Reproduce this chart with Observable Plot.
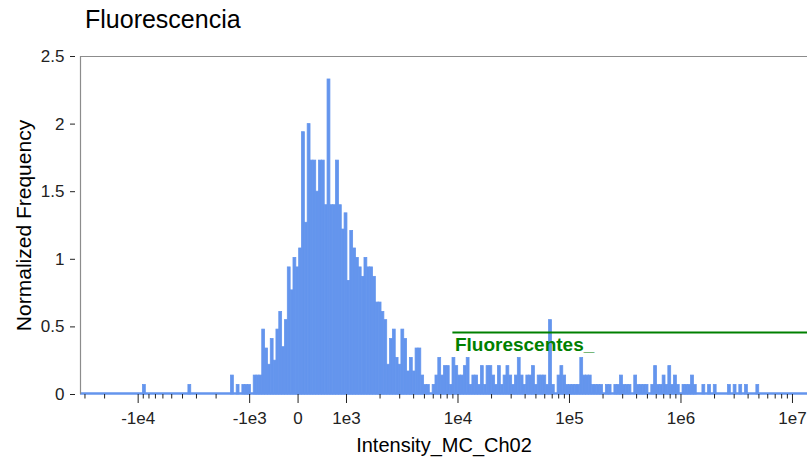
<!DOCTYPE html>
<html><head><meta charset="utf-8">
<script src="https://cdn.jsdelivr.net/npm/d3@7"></script>
<script src="https://cdn.jsdelivr.net/npm/@observablehq/plot@0.6"></script>
<style>
html,body{margin:0;padding:0;background:#fff;overflow:hidden;}
#title{height:40px;line-height:38px;padding-left:85px;font-size:25px;font-family:"Liberation Sans",Arial,sans-serif;color:#000;white-space:nowrap;}
</style></head><body>
<div id="title"></div>
<div id="chart"></div>
<script>
// ---- data ----
const chartTitle = "Fluorescencia";
const xLabel = "Intensity_MC_Ch02";
const yLabel = "Normalized Frequency";
// histogram range (raw intensity) and normalized frequency per bin (bins uniform in display space)
const rangeMin = -3.29e4;
const rangeMax = 1.364e7;
const freq = [
  0,0,0,0,0,0,0,0,0,0,
  0,0,0,0,0,0,0,0,0,0,
  0,0,0.07,0,0,0,0,0,0,0,
  0,0,0,0,0,0,0,0,0.07,0,
  0,0,0,0,0,0,0,0,0,0,
  0,0,0,0.14,0,0.07,0,0.07,0.07,0.07,
  0,0.14,0.14,0.14,0.48,0.34,0.22,0.41,0.25,0.48,
  0.61,0.35,0.55,0.94,0.77,1.01,0.94,1.08,1.94,1.27,
  2.0,1.73,1.73,1.5,1.73,1.73,1.4,2.33,1.4,1.4,
  1.73,1.4,1.22,1.34,0.84,1.21,1.08,1.01,0.94,0.87,
  1.01,0.94,0.94,0.87,0.68,0.68,0.61,0.55,0.22,0.41,
  0.48,0.27,0.22,0.48,0.41,0.17,0.27,0.17,0.34,0.34,
  0.14,0.07,0.07,0,0.07,0.14,0.27,0.14,0.21,0.21,
  0.07,0.27,0.21,0.14,0.14,0.21,0.27,0.07,0.14,0.14,
  0.07,0.21,0.07,0.21,0.21,0.14,0.07,0.21,0.07,0.14,
  0.21,0.14,0.07,0.14,0.27,0.14,0.07,0.14,0.14,0.21,
  0.07,0.14,0.14,0.14,0.07,0.55,0.07,0,0.14,0.21,
  0.14,0.07,0.07,0.07,0.07,0.07,0.27,0.14,0.14,0.14,
  0.07,0.07,0.07,0.07,0,0.07,0.07,0,0.07,0.07,
  0.14,0.07,0.07,0.07,0,0.14,0.07,0.07,0.07,0.07,
  0,0.07,0.21,0.07,0.07,0.14,0.07,0.21,0.07,0.14,
  0.07,0,0.07,0.07,0.07,0.14,0.07,0,0,0.07,
  0,0.07,0,0.07,0,0,0,0,0.07,0,
  0.07,0,0.07,0,0.07,0,0,0,0.07,0,
  0,0,0,0,0,0,0,0,0,0,
  0,0,0,0,0,0
];
const majorTicks = [-1e4, -1e3, 0, 1e3, 1e4, 1e5, 1e6, 1e7];
const majorLabels = ["-1e4", "-1e3", "0", "1e3", "1e4", "1e5", "1e6", "1e7"];
const minorMultipliers = [2, 3, 4, 5, 6, 7, 8, 9];
const minorDecadesPos = [1e3, 1e4, 1e5, 1e6];
const minorDecadesNeg = [1e3, 1e4];
const yTicks = [0, 0.5, 1, 1.5, 2, 2.5];
const yLabels = ["0", "0.5", "1", "1.5", "2", "2.5"];
// gate
const gateName = "Fluorescentes_";
const gateMin = 9000;
const gateLevel = 0.458;

// ---- logicle-like display transform (linear near 0, log beyond 1e3) ----
const LIN = 1000;
function T(v) {
  const a = Math.abs(v);
  const t = a <= LIN ? a / (LIN * Math.LN10) : 1 / Math.LN10 + Math.log10(a / LIN);
  return v < 0 ? -t : t;
}

document.getElementById("title").textContent = chartTitle;

const t0 = T(rangeMin), t1 = T(rangeMax);
const bw = (t1 - t0) / freq.length;
const bins = freq.map((f, i) => ({x1: t0 + i * bw, x2: t0 + (i + 1) * bw, y: f}));

const minorTicks = [];
for (const d of minorDecadesPos) for (const m of minorMultipliers) if (m * d <= rangeMax) minorTicks.push(m * d);
for (const d of minorDecadesNeg) for (const m of minorMultipliers) if (-m * d >= rangeMin) minorTicks.push(-m * d);

const majorT = majorTicks.map(T);
const labelMap = new Map(majorT.map((t, i) => [t, majorLabels[i]]));
const yLabelMap = new Map(yTicks.map((t, i) => [t, yLabels[i]]));

const blue = "#6495ED";
const gray = "#8c8c8c";

const plot = Plot.plot({
  width: 808,
  height: 418,
  marginLeft: 80,
  marginRight: 1,
  marginTop: 16,
  marginBottom: 64,
  style: {fontFamily: '"Liberation Sans", Arial, sans-serif', fontSize: "17px", color: "#000", background: "#fff", overflow: "hidden"},
  x: {domain: [t0, t1], axis: null},
  y: {domain: [0, 2.5], axis: null},
  marks: [
    Plot.rectY(bins, {x1: "x1", x2: "x2", y: "y", fill: blue, stroke: blue, strokeWidth: 0.8}),
    Plot.ruleY([0], {stroke: blue, strokeWidth: 2.5, dy: -1}),
    Plot.ruleY([2.5], {stroke: gray, strokeWidth: 1}),
    Plot.ruleX([t0], {y1: 0, y2: 2.5, stroke: gray, strokeWidth: 1.2}),
    Plot.axisY({ticks: yTicks, tickFormat: d => yLabelMap.get(d), tickSize: 5, dx: -5, tickPadding: 6, fontSize: 17, color: "#222", label: null}),
    Plot.axisX({ticks: majorT, tickFormat: d => labelMap.get(d), tickSize: 9, tickPadding: 8, fontSize: 17, color: "#222", label: null}),
    Plot.axisX({ticks: minorTicks.map(T), tickFormat: () => "", tickSize: 4.5, color: "#222", label: null}),
    Plot.ruleY([{y: gateLevel, x1: T(gateMin), x2: t1}], {y: "y", x1: "x1", x2: "x2", stroke: "#008000", strokeWidth: 2}),
    Plot.text([{x: T(gateMin), y: gateLevel, label: gateName}], {x: "x", y: "y", text: "label", textAnchor: "start", lineAnchor: "top", dx: 2, dy: 5, fill: "#008000", fontWeight: "bold", fontSize: 19}),
    Plot.text([xLabel], {text: d => d, frameAnchor: "bottom", dy: 51, textAnchor: "middle", lineAnchor: "middle", fontSize: 20, fill: "#000"}),
    Plot.text([yLabel], {text: d => d, frameAnchor: "left", rotate: -90, dx: -56, dy: 0, textAnchor: "middle", lineAnchor: "middle", fontSize: 21, fill: "#000"})
  ]
});
document.getElementById("chart").appendChild(plot);
</script>
</body></html>
